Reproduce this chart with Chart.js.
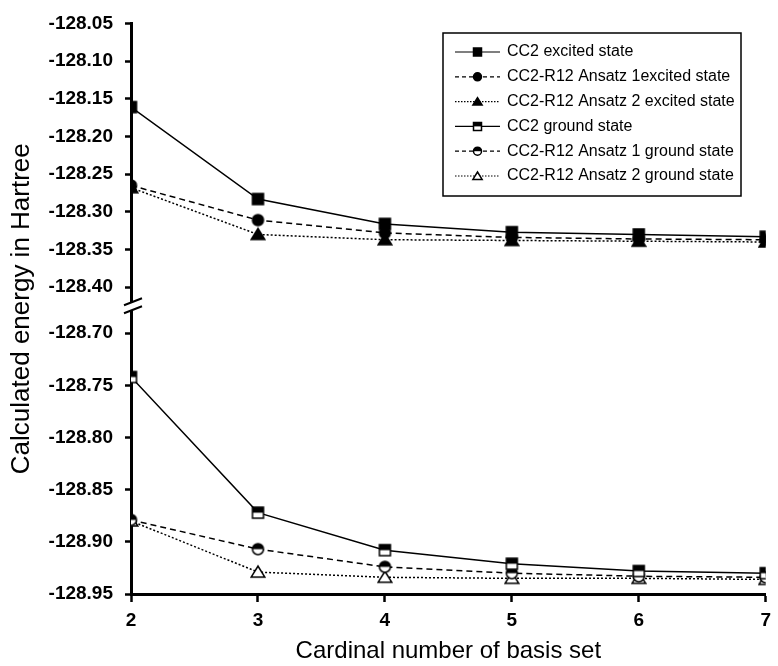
<!DOCTYPE html>
<html>
<head>
<meta charset="utf-8">
<script src="https://cdn.jsdelivr.net/npm/chart.js@4.4.1/dist/chart.umd.min.js"></script>
<style>
  html, body { margin: 0; padding: 0; background: #fff; }
</style>
</head>
<body>
<canvas id="myChart" width="778" height="666"></canvas>
<script>
// cardinal number of the basis set (x axis)
const cardinals = [2, 3, 4, 5, 6, 7];

const labels = [
    'CC2 excited state',
    'CC2-R12 Ansatz 1excited state',
    'CC2-R12 Ansatz 2 excited state',
    'CC2 ground state',
    'CC2-R12 Ansatz 1 ground state',
    'CC2-R12 Ansatz 2 ground state',
];

// energies in Hartree
const cc2Excited    = [-128.161, -128.283, -128.316, -128.327, -128.330, -128.333];
const ansatz1Excited = [-128.265, -128.311, -128.328, -128.334, -128.336, -128.337];
const ansatz2Excited = [-128.268, -128.330, -128.337, -128.338, -128.339, -128.340];
const cc2Ground     = [-128.742, -128.872, -128.908, -128.921, -128.928, -128.930];
const ansatz1Ground  = [-128.879, -128.907, -128.924, -128.930, -128.933, -128.934];
const ansatz2Ground  = [-128.880, -128.929, -128.934, -128.935, -128.935, -128.936];

// tick labels of the broken y axis
const upperTicks = [-128.05, -128.10, -128.15, -128.20, -128.25, -128.30, -128.35, -128.40];
const lowerTicks = [-128.70, -128.75, -128.80, -128.85, -128.90, -128.95];
const xTicks = [2, 3, 4, 5, 6, 7];

const FONT = "'Liberation Sans', Arial, Helvetica, sans-serif";
const tickFont = { family: FONT, size: 19, weight: 'bold' };

function drawMarker(ctx, shape, fill, x, y, size) {
    const h = size / 2;
    ctx.save();
    ctx.setLineDash([]);
    ctx.lineWidth = 1.5;
    ctx.strokeStyle = '#000';
    ctx.beginPath();
    if (shape === 'square') {
        ctx.rect(x - h, y - h, size, size);
    } else if (shape === 'circle') {
        ctx.arc(x, y, h, 0, Math.PI * 2);
    } else {
        ctx.moveTo(x, y - h);
        ctx.lineTo(x + h * 1.15, y + h * 0.85);
        ctx.lineTo(x - h * 1.15, y + h * 0.85);
        ctx.closePath();
    }
    ctx.fillStyle = fill === 'full' ? '#000' : '#fff';
    ctx.fill();
    if (fill === 'half') {
        ctx.save();
        ctx.clip();
        ctx.fillStyle = '#000';
        ctx.fillRect(x - size, y - size, size * 2, size);
        ctx.restore();
    }
    ctx.stroke();
    ctx.restore();
}

function makeMarker(shape, fill, size) {
    const c = document.createElement('canvas');
    c.width = c.height = size + 4;
    drawMarker(c.getContext('2d'), shape, fill, c.width / 2, c.height / 2, size);
    return c;
}

function series(label, values, axis, shape, fill, size, dash) {
    return {
        label: label,
        yAxisID: axis,
        data: cardinals.map((x, i) => ({ x: x, y: values[i] })),
        borderColor: '#000',
        borderWidth: 1.5,
        borderDash: dash,
        pointStyle: makeMarker(shape, fill, size),
        pointRadius: 6,
        pointHoverRadius: 6,
        marker: { shape: shape, fill: fill },
        tension: 0,
        fill: false,
    };
}

const datasets = [
    series(labels[0], cc2Excited, 'yTop', 'square', 'full', 11, []),
    series(labels[1], ansatz1Excited, 'yTop', 'circle', 'full', 11, [6, 4]),
    series(labels[2], ansatz2Excited, 'yTop', 'triangle', 'full', 12, [2, 2]),
    series(labels[3], cc2Ground, 'yBottom', 'square', 'half', 11, []),
    series(labels[4], ansatz1Ground, 'yBottom', 'circle', 'half', 11, [6, 4]),
    series(labels[5], ansatz2Ground, 'yBottom', 'triangle', 'none', 12, [2, 2]),
];

// white gap and two slashes on the y axis between the two stacked scales
const axisBreak = {
    id: 'axisBreak',
    afterDraw(chart) {
        const ctx = chart.ctx;
        const x = chart.chartArea.left;
        const y = chart.scales.yTop.getPixelForValue(-128.40) + 15;
        ctx.save();
        ctx.fillStyle = '#fff';
        ctx.fillRect(x - 4, y, 8, 8);
        ctx.strokeStyle = '#000';
        ctx.lineWidth = 2;
        ctx.beginPath();
        ctx.moveTo(x - 7, y + 3);
        ctx.lineTo(x + 11, y - 4);
        ctx.moveTo(x - 7, y + 11);
        ctx.lineTo(x + 11, y + 4);
        ctx.stroke();
        ctx.restore();
    }
};

// boxed legend with line sample + marker, as in the original figure
const boxLegend = {
    id: 'boxLegend',
    afterDraw(chart) {
        const ctx = chart.ctx;
        const box = { left: 443, top: 33, right: 741, bottom: 196 };
        ctx.save();
        ctx.fillStyle = '#fff';
        ctx.fillRect(box.left, box.top, box.right - box.left, box.bottom - box.top);
        ctx.strokeStyle = '#000';
        ctx.lineWidth = 1.5;
        ctx.strokeRect(box.left, box.top, box.right - box.left, box.bottom - box.top);
        chart.data.datasets.forEach((ds, i) => {
            const y = 52 + i * 24.8;
            ctx.lineWidth = 1.2;
            ctx.setLineDash(ds.borderDash.length ? (ds.borderDash[0] > 3 ? [4, 3] : [1.5, 1.5]) : []);
            ctx.beginPath();
            ctx.moveTo(455, y);
            ctx.lineTo(500, y);
            ctx.stroke();
            drawMarker(ctx, ds.marker.shape, ds.marker.fill, 477.5, y, 8);
            ctx.setLineDash([]);
            ctx.fillStyle = '#000';
            ctx.font = '16px ' + FONT;
            ctx.textBaseline = 'middle';
            ctx.textAlign = 'left';
            ctx.fillText(ds.label, 507, y);
        });
        ctx.restore();
    }
};

const yTickGrid = { drawOnChartArea: false, drawTicks: true, tickLength: 6, tickWidth: 2.5, tickColor: '#000' };
const yTickOpts = { font: tickFont, color: '#000', padding: 12, autoSkip: false, callback: v => v.toFixed(2) };

new Chart(document.getElementById('myChart'), {
    type: 'line',
    data: { datasets: datasets },
    plugins: [axisBreak, boxLegend],
    options: {
        responsive: false,
        animation: false,
        layout: { padding: { top: 23, right: 5, bottom: 0, left: 0 } },
        plugins: {
            legend: { display: false },
            tooltip: { enabled: false },
        },
        scales: {
            x: {
                type: 'linear',
                min: 2,
                max: 7,
                afterBuildTicks: s => { s.ticks = xTicks.map(v => ({ value: v })); },
                afterFit: s => { s.height = 72; },
                ticks: { font: tickFont, color: '#000', padding: 7, autoSkip: false, maxRotation: 0, callback: v => String(v) },
                grid: { drawOnChartArea: false, drawTicks: true, tickLength: 8, tickWidth: 2.5, tickColor: '#000' },
                border: { display: true, color: '#000', width: 3 },
                title: {
                    display: true,
                    text: 'Cardinal number of basis set',
                    font: { family: FONT, size: 24 },
                    color: '#000',
                    padding: { top: 0, bottom: 0 },
                },
            },
            yTitle: {
                type: 'linear',
                position: 'left',
                weight: 2,
                afterFit: s => { s.width = 40; },
                ticks: { display: false },
                grid: { display: false },
                border: { display: false },
                title: {
                    display: true,
                    text: 'Calculated energy in Hartree',
                    font: { family: FONT, size: 26 },
                    color: '#000',
                    padding: { top: 6, bottom: 0 },
                },
            },
            yTop: {
                type: 'linear',
                position: 'left',
                stack: 'energy',
                stackWeight: 310,
                weight: 1,
                min: -128.461,
                max: -128.05,
                afterBuildTicks: s => { s.ticks = upperTicks.map(v => ({ value: v })); },
                afterFit: s => { s.width = 91; },
                ticks: yTickOpts,
                grid: yTickGrid,
                border: { display: true, color: '#000', width: 3 },
            },
            yBottom: {
                type: 'linear',
                position: 'left',
                stack: 'energy',
                stackWeight: 261,
                weight: 0,
                min: -128.95,
                max: -128.70,
                afterBuildTicks: s => { s.ticks = lowerTicks.map(v => ({ value: v })); },
                afterFit: s => { s.width = 91; },
                ticks: yTickOpts,
                grid: yTickGrid,
                border: { display: true, color: '#000', width: 3 },
            },
        },
    },
});
</script>
</body>
</html>
